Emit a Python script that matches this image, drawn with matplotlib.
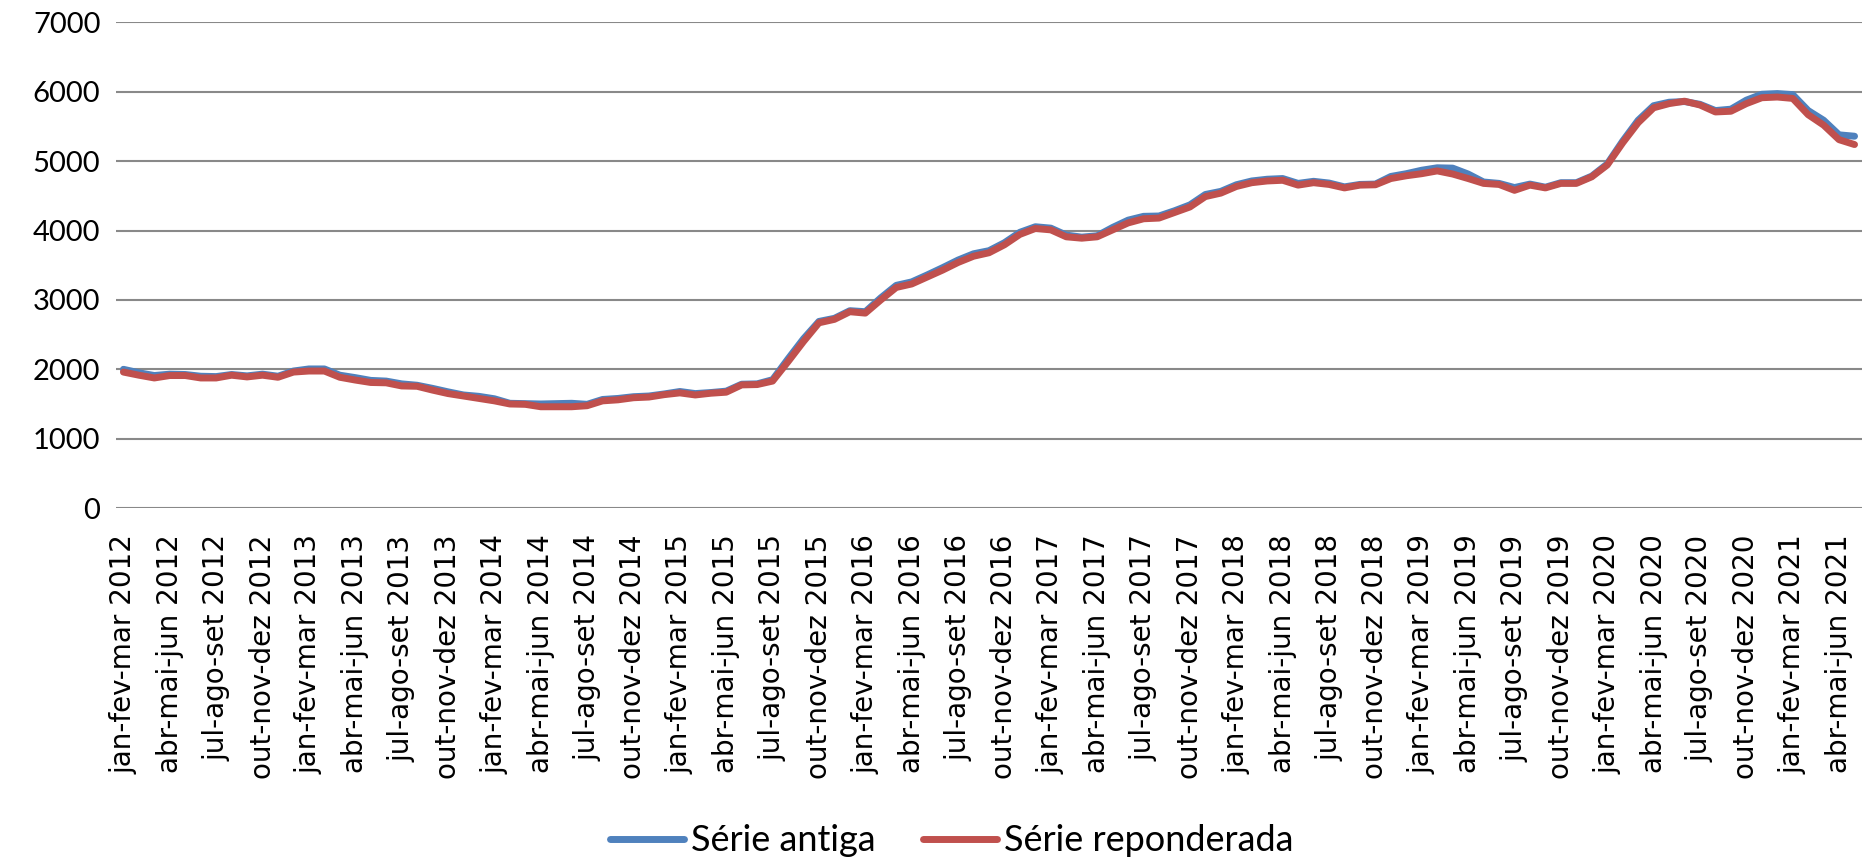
import matplotlib
matplotlib.use("Agg")
import matplotlib.pyplot as plt

# rolling quarters, monthly, from jan-fev-mar 2012 to mai-jun-jul 2021
meses = ["jan-fev-mar", "fev-mar-abr", "mar-abr-mai", "abr-mai-jun", "mai-jun-jul",
         "jun-jul-ago", "jul-ago-set", "ago-set-out", "set-out-nov", "out-nov-dez",
         "nov-dez-jan", "dez-jan-fev"]
periodos = []
for ano in range(2012, 2022):
    for m in meses:
        periodos.append(f"{m} {ano}")
periodos = periodos[:113]

serie_reponderada = [
    1960, 1915, 1875, 1910, 1910, 1875, 1875, 1915, 1890, 1915,
    1885, 1960, 1975, 1975, 1885, 1845, 1810, 1805, 1760, 1755,
    1700, 1650, 1615, 1580, 1545, 1500, 1495, 1460, 1460, 1460,
    1475, 1545, 1560, 1590, 1600, 1635, 1660, 1630, 1655, 1670,
    1775, 1780, 1830, 2110, 2400, 2670, 2720, 2830, 2810, 3000,
    3180, 3230, 3330, 3430, 3540, 3630, 3680, 3795, 3945, 4030,
    4010, 3910, 3890, 3910, 4010, 4110, 4170, 4180, 4260, 4340,
    4490, 4540, 4635, 4690, 4715, 4725, 4655, 4690, 4665, 4615,
    4655, 4660, 4750, 4790, 4820, 4860, 4815, 4750, 4680, 4665,
    4580, 4655, 4615, 4680, 4680, 4775, 4945, 5265, 5555, 5770,
    5830, 5865, 5810, 5710, 5720, 5830, 5915, 5925, 5905, 5670,
    5520, 5310, 5240]

serie_antiga = [
    2000, 1950, 1910, 1930, 1925, 1900, 1895, 1925, 1905, 1930,
    1900, 1975, 2005, 2005, 1915, 1880, 1840, 1830, 1790, 1770,
    1725, 1675, 1630, 1610, 1575, 1510, 1505, 1500, 1505, 1510,
    1495, 1565, 1580, 1605, 1615, 1645, 1680, 1650, 1665, 1685,
    1785, 1790, 1850, 2150, 2440, 2690, 2735, 2845, 2830, 3030,
    3210, 3260, 3360, 3465, 3575, 3665, 3710, 3825, 3975, 4055,
    4035, 3935, 3905, 3925, 4045, 4150, 4205, 4210, 4285, 4370,
    4520, 4565, 4660, 4715, 4740, 4750, 4680, 4710, 4685, 4630,
    4665, 4670, 4780, 4820, 4870, 4905, 4900, 4815, 4700, 4680,
    4620, 4670, 4625, 4690, 4690, 4785, 4960, 5290, 5590, 5800,
    5850, 5860, 5820, 5730, 5750, 5880, 5965, 5975, 5960, 5730,
    5590, 5380, 5360]

yticks = [0, 1000, 2000, 3000, 4000, 5000, 6000, 7000]

fig = plt.figure(figsize=(18.66, 8.64), dpi=100)
ax = fig.add_axes([0.062, 0.412, 0.936, 0.562])

x = list(range(len(periodos)))
ax.plot(x, serie_antiga, color="#4F81BD", linewidth=5, label="Série antiga",
        solid_capstyle="round", solid_joinstyle="round")
ax.plot(x, serie_reponderada, color="#C0504D", linewidth=5, label="Série reponderada",
        solid_capstyle="round", solid_joinstyle="round")

ax.set_xlim(-0.5, len(periodos) - 0.5)
ax.set_ylim(0, 7000)
ax.set_yticks(yticks)
ax.set_yticklabels([str(v) for v in yticks], fontfamily="Lato", fontsize=21)
ax.grid(axis="y", color="#898989", linewidth=1.5)
ax.set_axisbelow(True)

ax.set_xticks(x[::3])
ax.set_xticklabels(periodos[::3], rotation=90, fontfamily="DejaVu Sans", fontsize=20,
                   ha="center", va="top")
ax.tick_params(axis="x", length=0, pad=19)
ax.tick_params(axis="y", length=0, pad=11)
for s in ax.spines.values():
    s.set_visible(False)

fig.legend(loc="lower center", bbox_to_anchor=(0.51, -0.03), ncol=2, frameon=False,
           prop={"family": "Lato", "size": 26}, handlelength=2.05,
           handletextpad=0.2, columnspacing=1.3)

fig.savefig("out.png", dpi=100)
